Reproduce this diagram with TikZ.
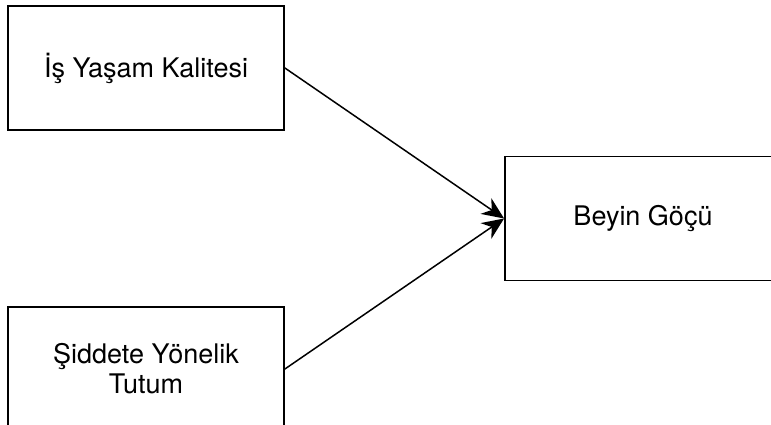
\documentclass[tikz,border=0pt]{standalone}
\usepackage{fontspec}
\setmainfont{TeX Gyre Heros}
\usetikzlibrary{arrows.meta}

\begin{document}
\begin{tikzpicture}[x=1pt,y=-1pt,
		kutu/.style={draw,line width=1.8pt,minimum width=276pt,minimum height=124pt,inner sep=0pt,align=center,font=\fontsize{27}{30}\selectfont},
		ok/.style={line width=1.5pt,-{Stealth[length=22pt,width=19pt,inset=7pt]}}]
	\clip (0,0) rectangle (771,425);
	\node[kutu] (isyasam) at (146,68) {İş Yaşam Kalitesi};
	\node[kutu] (siddet) at (146,369) {Şiddete Yönelik\\Tutum};
	\node[kutu] (beyin) at (643,218.5) {Beyin Göçü};
	\draw[ok] (isyasam.east) -- (beyin.west);
	\draw[ok] (siddet.east) -- (beyin.west);
\end{tikzpicture}
\end{document}
